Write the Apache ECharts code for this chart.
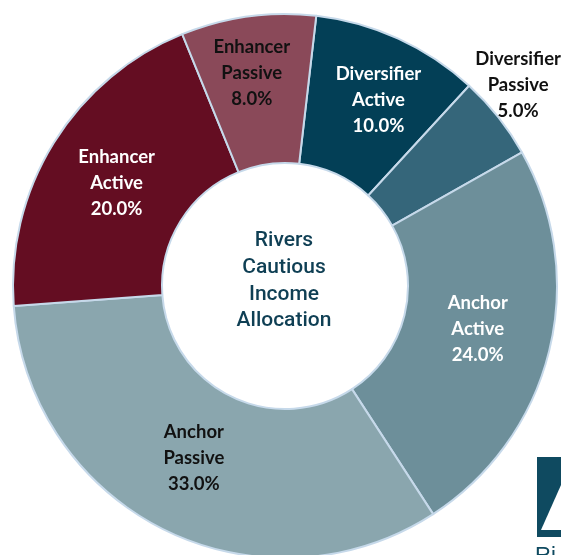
<!DOCTYPE html>
<html>
<head>
<meta charset="utf-8">
<script src="https://cdn.jsdelivr.net/npm/echarts@6/dist/echarts.min.js"></script>
<style>
    html, body {margin: 0; padding: 0; background: #ffffff;}
    #chartDiv {width: 561px; height: 555px;}
</style>
</head>
<body>
<div id="chartDiv"></div>
<script>
//数据
var categories = ['Diversifier Active', 'Diversifier Passive', 'Anchor Active', 'Anchor Passive', 'Enhancer Active', 'Enhancer Passive'];
var shares = [10.0, 5.0, 24.0, 33.0, 20.0, 8.0];
var centreTitle = 'Rivers\nCautious\nIncome\nAllocation';

//样式
var sliceColors = ['#033f56', '#35667a', '#6d8f9a', '#8aa6ae', '#640d22', '#8a4959'];
var labelColors = ['#ffffff', '#111111', '#ffffff', '#111111', '#ffffff', '#111111'];
//标签偏移 (dx, dy)
var labelShift = [[10, -4], [76, -76], [-2, -5], [-2, -8], [2, 3], [-6, -14]];

var chartDiv = document.getElementById('chartDiv');
var chart = echarts.init(chartDiv);

var pieData = [];
for (var i = 0; i < categories.length; i++) {
    pieData.push({
        name: categories[i],
        value: shares[i],
        itemStyle: {color: sliceColors[i]},
        label: {color: labelColors[i]}
    });
}

var option = {
    animation: false,
    graphic: [
        {
            type: 'text',
            x: 284,
            y: 281,
            style: {
                text: centreTitle,
                font: '500 21px Roboto',
                fill: '#0f3f54',
                align: 'center',
                verticalAlign: 'middle',
                lineHeight: 26.7
            }
        },
        //右下角的logo
        {
            type: 'rect',
            shape: {x: 537, y: 457, width: 30, height: 80},
            style: {fill: '#0f4a60'}
        },
        {
            type: 'polygon',
            shape: {points: [[561, 485], [561, 530], [541, 530]]},
            style: {fill: '#ffffff'}
        },
        {
            type: 'text',
            x: 535,
            y: 545,
            style: {text: 'Ri', font: '22px "Liberation Sans"', fill: '#0f4a60'}
        }
    ],
    series: [
        {
            type: 'pie',
            center: [285, 286],
            radius: [123, 272],
            startAngle: 83.4,
            clockwise: true,
            data: pieData,
            itemStyle: {
                borderColor: '#c6d9ea',
                borderWidth: 2
            },
            label: {
                show: true,
                position: 'inside',
                fontFamily: 'Lato',
                fontWeight: 'bold',
                fontSize: 18.5,
                lineHeight: 26,
                align: 'center',
                formatter: function (p) {
                    return p.name.replace(' ', '\n') + '\n' + p.value.toFixed(1) + '%';
                }
            },
            labelLine: {show: false},
            labelLayout: function (params) {
                var s = labelShift[params.dataIndex];
                return {dx: s[0], dy: s[1]};
            }
        }
    ]
};
chart.setOption(option);
</script>
</body>
</html>
